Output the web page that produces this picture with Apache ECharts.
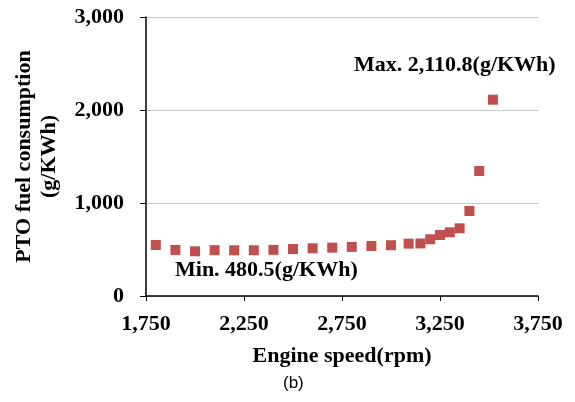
<!DOCTYPE html>
<html>
<head>
<meta charset="utf-8">
<script src="https://cdn.jsdelivr.net/npm/echarts@6/dist/echarts.min.js"></script>
<style>
  html, body { margin: 0; padding: 0; background: #fff; }
  #chart { width: 575px; height: 402px; }
</style>
</head>
<body>
<div id="chart"></div>
<script>
  // engine speed (rpm) and PTO fuel consumption (g/KWh)
  const speed = [1800, 1900, 2000, 2100, 2200, 2300, 2400, 2500, 2600, 2700, 2800, 2900, 3000,
                 3090, 3150, 3200, 3250, 3300, 3350, 3400, 3450, 3520]
  const fuel = [548, 495, 480.5, 493, 492, 492, 496, 505, 513, 520, 528, 538, 546,
                563, 565, 610, 656, 685, 728, 914, 1344, 2110.8]
  const xTicks = [1750, 2250, 2750, 3250, 3750]
  const yTicks = [0, 1000, 2000, 3000]

  const serif = '"Liberation Serif", "Times New Roman", serif'
  const fmt = v => v.toLocaleString('en-US')

  const chart = echarts.init(document.getElementById('chart'))
  chart.setOption({
    animation: false,
    grid: {left: 146, right: 37, top: 17, bottom: 106, outerBoundsMode: 'none'},
    xAxis: {
      type: 'value',
      min: xTicks[0],
      max: xTicks[xTicks.length - 1],
      interval: 500,
      name: 'Engine speed(rpm)',
      nameLocation: 'middle',
      nameGap: 49,
      nameTextStyle: {fontFamily: serif, fontWeight: 'bold', fontSize: 22, color: '#000'},
      axisLine: {lineStyle: {color: '#000', width: 1.5}},
      axisTick: {length: 5, lineStyle: {color: '#000'}},
      axisLabel: {fontFamily: serif, fontWeight: 'bold', fontSize: 22, color: '#000', margin: 17, formatter: fmt},
      splitLine: {show: false}
    },
    yAxis: {
      type: 'value',
      min: yTicks[0],
      max: yTicks[yTicks.length - 1],
      interval: 1000,
      name: 'PTO fuel consumption\n(g/KWh)',
      nameLocation: 'middle',
      nameGap: 84,
      nameTextStyle: {fontFamily: serif, fontWeight: 'bold', fontSize: 22, color: '#000', lineHeight: 25},
      axisLine: {show: true, lineStyle: {color: '#000', width: 1.5}},
      axisTick: {show: true, length: 6, lineStyle: {color: '#000'}},
      axisLabel: {fontFamily: serif, fontWeight: 'bold', fontSize: 22, color: '#000', margin: 22, formatter: fmt},
      splitLine: {lineStyle: {color: '#c8c8c8', width: 1}}
    },
    series: [{
      type: 'scatter',
      symbol: 'rect',
      symbolSize: 10,
      itemStyle: {color: '#C0504D', opacity: 1},
      data: speed.map((s, i) => [s, fuel[i]])
    }],
    graphic: [
      {type: 'text', left: 354, top: 54,
        style: {text: 'Max. 2,110.8(g/KWh)', font: 'bold 22px ' + serif, fill: '#000'}},
      {type: 'text', left: 175, top: 259,
        style: {text: 'Min. 480.5(g/KWh)', font: 'bold 22px ' + serif, fill: '#000'}},
      {type: 'text', left: 283, top: 375,
        style: {text: '(b)', font: '17px "Liberation Sans", Arial, sans-serif', fill: '#000'}}
    ]
  })
</script>
</body>
</html>
